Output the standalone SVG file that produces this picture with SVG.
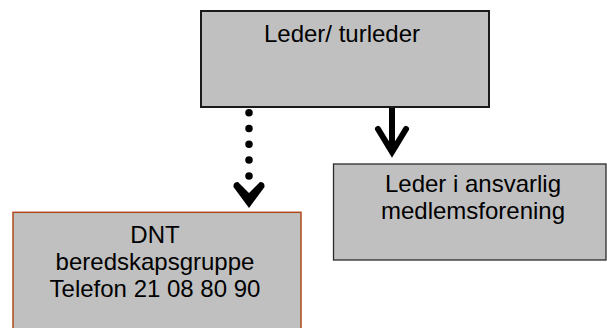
<svg xmlns="http://www.w3.org/2000/svg" width="607" height="328" viewBox="0 0 607 328">
  <style>
    .box { fill: #c0c0c0; }
    .lbl { font-family: "Liberation Sans", Arial, sans-serif; font-size: 24px; fill: #000; text-anchor: middle; }
  </style>
  <rect width="607" height="328" fill="#ffffff"/>
  <g id="connectors">
    <line x1="249" y1="112.7" x2="249" y2="176" stroke="#000" stroke-width="7.5" stroke-linecap="round" stroke-dasharray="0 15.8"/>
    <path d="M233.5,187 Q233,182 238,182 L249,193 L260,182 Q265,182 264.5,187 L249,208 Z" fill="#000"/>
    <line x1="392" y1="107" x2="392" y2="150" stroke="#000" stroke-width="6"/>
    <polyline points="378,129 392,152 406,129" fill="none" stroke="#000" stroke-width="6" stroke-linejoin="miter" stroke-linecap="round"/>
  </g>
  <g id="node-leder">
    <rect class="box" x="201" y="11" width="288" height="96" stroke="#1a1a1a" stroke-width="2"/>
    <text class="lbl" x="342" y="42">Leder/ turleder</text>
  </g>
  <g id="node-ansvarlig">
    <rect class="box" x="333.5" y="164" width="272.5" height="96" stroke="#2a2a2a" stroke-width="1.3"/>
    <text class="lbl" x="473" y="192.3">Leder i ansvarlig</text>
    <text class="lbl" x="473" y="218.5">medlemsforening</text>
  </g>
  <g id="node-dnt">
    <rect class="box" x="13" y="212.3" width="288" height="125" stroke="#b04a1c" stroke-width="1.5"/>
    <text class="lbl" x="155" y="242.7">DNT</text>
    <text class="lbl" x="155" y="270">beredskapsgruppe</text>
    <text class="lbl" x="155" y="296.5">Telefon 21 08 80 90</text>
  </g>
</svg>
